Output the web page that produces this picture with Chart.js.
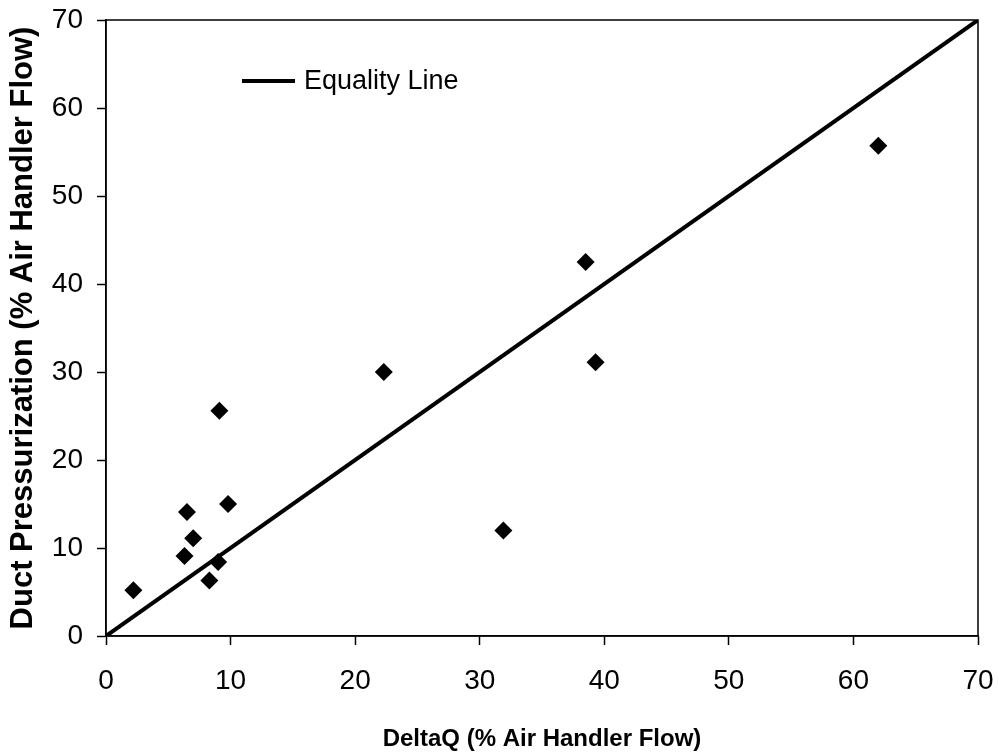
<!DOCTYPE html>
<html>
<head>
<meta charset="utf-8">
<script src="https://cdn.jsdelivr.net/npm/chart.js@4"></script>
<style>
  html, body { margin: 0; padding: 0; background: #fff; }
  #wrap { width: 999px; height: 754px; }
</style>
</head>
<body>
<div id="wrap"><canvas id="chart" width="999" height="754"></canvas></div>
<script>
// Measured points
const deltaQ = [2.2, 6.3, 6.5, 7.0, 8.3, 9.0, 9.1, 9.8, 22.3, 31.9, 38.5, 39.3, 62.0];
const ductPress = [5.2, 9.1, 14.1, 11.1, 6.3, 8.4, 25.6, 15.0, 30.0, 12.0, 42.5, 31.1, 55.7];

// Equality line end points
const equalityX = [0, 70];
const equalityY = [0, 70];

const axisTicks = [0, 10, 20, 30, 40, 50, 60, 70];

const FONT = "'Liberation Sans', Arial, Helvetica, sans-serif";

// drop the label overflow padding so the layout padding alone sets the plot edges
function noPad(s) {
  s.paddingTop = 0;
  s.paddingBottom = 0;
  s.paddingLeft = 0;
  s.paddingRight = 0;
}

// Frame around the plot area plus the little legend in the upper left
const framePlugin = {
  id: 'frame',
  afterDraw(chart) {
    const { ctx, chartArea } = chart;
    ctx.save();
    ctx.strokeStyle = '#000';
    ctx.lineWidth = 1.5;
    ctx.strokeRect(chartArea.left, chartArea.top, chartArea.right - chartArea.left, chartArea.bottom - chartArea.top);

    // legend entry for the equality line
    const lx = chartArea.left + 136;
    const ly = chartArea.top + 61;
    ctx.lineWidth = 4;
    ctx.beginPath();
    ctx.moveTo(lx, ly);
    ctx.lineTo(lx + 53, ly);
    ctx.stroke();
    ctx.fillStyle = '#000';
    ctx.font = '27px ' + FONT;
    ctx.textBaseline = 'middle';
    ctx.textAlign = 'left';
    ctx.fillText(chart.data.datasets[1].label, lx + 62, ly + 1);
    ctx.restore();
  }
};

new Chart(document.getElementById('chart').getContext('2d'), {
  type: 'scatter',
  data: {
    datasets: [{
      label: 'Measured',
      data: deltaQ.map((x, i) => ({ x: x, y: ductPress[i] })),
      pointStyle: 'rectRot',
      pointRadius: 9,
      pointHoverRadius: 9,
      backgroundColor: '#000',
      borderColor: '#000',
      borderWidth: 0,
      order: 1
    }, {
      label: 'Equality Line',
      type: 'line',
      data: equalityX.map((x, i) => ({ x: x, y: equalityY[i] })),
      borderColor: '#000',
      borderWidth: 4,
      pointRadius: 0,
      fill: false,
      order: 2
    }]
  },
  options: {
    responsive: false,
    animation: false,
    layout: { padding: { top: 20, right: 21, left: 0, bottom: 0 } },
    plugins: {
      legend: { display: false },
      tooltip: { enabled: false }
    },
    scales: {
      x: {
        type: 'linear',
        min: 0,
        max: 70,
        afterBuildTicks: s => { s.ticks = axisTicks.map(v => ({ value: v })); },
        afterFit: s => { s.height = 118; noPad(s); },
        grid: { drawOnChartArea: false, drawTicks: true, tickLength: 9, tickColor: '#000', tickWidth: 1.5 },
        border: { color: '#000', width: 1.5 },
        ticks: { color: '#000', font: { family: FONT, size: 28 }, padding: 19, maxRotation: 0 },
        title: {
          display: true,
          text: 'DeltaQ (% Air Handler Flow)',
          color: '#000',
          font: { family: FONT, size: 24, weight: 'bold' },
          padding: { top: 0, bottom: 0 }
        }
      },
      y: {
        type: 'linear',
        min: 0,
        max: 70,
        afterBuildTicks: s => { s.ticks = axisTicks.map(v => ({ value: v })); },
        afterFit: s => { s.width = 106; noPad(s); },
        grid: { drawOnChartArea: false, drawTicks: true, tickLength: 9, tickColor: '#000', tickWidth: 1.5 },
        border: { color: '#000', width: 1.5 },
        ticks: { color: '#000', font: { family: FONT, size: 28 }, padding: 14 },
        title: {
          display: true,
          text: 'Duct Pressurization (% Air Handler Flow)',
          color: '#000',
          font: { family: FONT, size: 31, weight: 'bold' },
          padding: { top: 5, bottom: 0 }
        }
      }
    }
  },
  plugins: [framePlugin]
});
</script>
</body>
</html>
